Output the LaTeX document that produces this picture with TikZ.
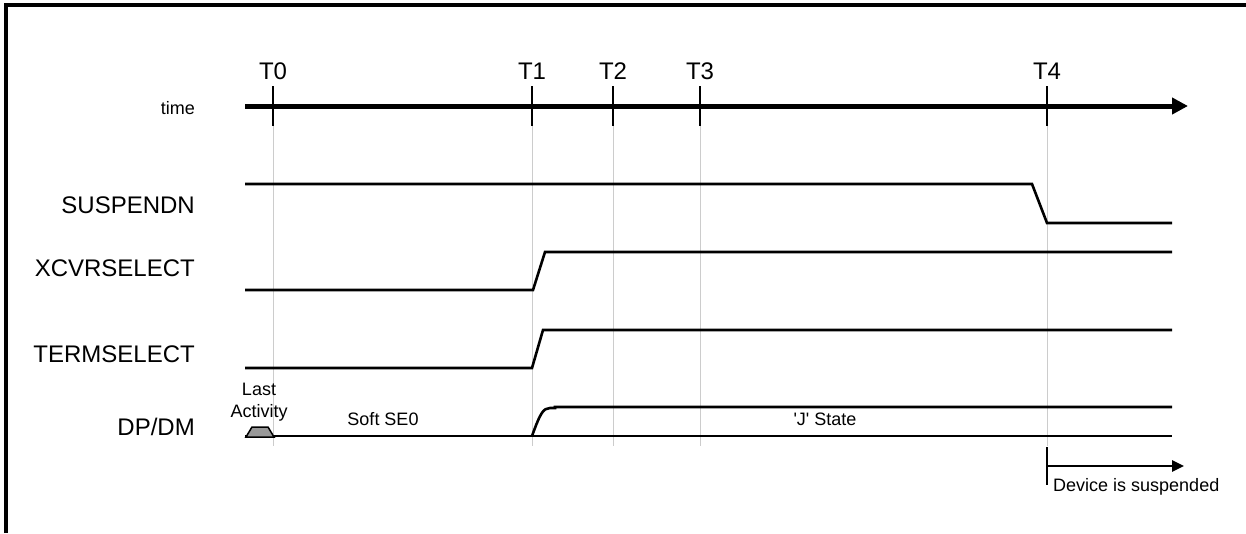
\documentclass[tikz,border=0pt]{standalone}
\usepackage{fontspec}
\setmainfont{Liberation Sans}
\usetikzlibrary{arrows.meta, positioning}

\begin{document}
\begin{tikzpicture}[x=1pt,y=-1pt,
	sig/.style={line width=2.6pt},
	gridline/.style={gray!40, line width=1pt},
	tickline/.style={line width=2pt},
	big/.style={font=\fontsize{24}{28}\selectfont, inner sep=0pt},
	small/.style={font=\fontsize{18}{22}\selectfont, inner sep=0pt}]
		\useasboundingbox (0,0) rectangle (1246,533);
		\draw[line width=4pt] (6,533) -- (6,5) -- (1246,5);
		
		% time axis with ticks
		\coordinate (ax0) at (245,106);
		\coordinate (ax1) at (1188,106);
		\draw[line width=5pt, -{Triangle[length=16pt,width=16pt]}] (ax0) -- (ax1);
		\foreach \n/\x in {0/273,1/532,2/613,3/700,4/1047}{
			\draw[gridline] (\x,126) -- (\x,446);
			\draw[tickline] (\x,86) -- (\x,126);
			\node[big, anchor=base] (t\n) at (\x,79) {T\n};
		}
		
		% signal names
		\node[small, anchor=base east] (time) at (195,114) {time};
		\node[big, anchor=base east] (susp) at (195,213) {SUSPENDN};
		\node[big, anchor=base east] (xcvr) at (195,276) {XCVRSELECT};
		\node[big, anchor=base east] (term) at (195,362) {TERMSELECT};
		\node[big, anchor=base east] (dpdm) at (195,435) {DP/DM};
		
		% waveforms
		\draw[sig] (245,184) -- (1032,184) -- (1047,223) -- (1172,223);
		\draw[sig] (245,290) -- (533,290) -- (545,252) -- (1172,252);
		\draw[sig] (245,368) -- (532,368) -- (543,330) -- (1172,330);
		\draw[sig] (245,436) -- (1172,436);
		\draw[sig] (532,436) .. controls (540,414) and (543,408) .. (550,408) -- (555,408) -- (555,407) -- (1172,407);
		\filldraw[fill=gray!80, line width=1.5pt] (246,437) -- (252,427) -- (268,427) -- (274,437) -- cycle;
		
		\node[small, align=center, anchor=south] (act) at (259,421) {Last\\Activity};
		\node[small, anchor=base] (se0) at (383,425) {Soft SE0};
		\node[small, anchor=base] (jst) at (825,425) {\textquotesingle J\textquotesingle{} State};
		
		% suspended
		\coordinate (sus0) at (1047,466);
		\coordinate (sus1) at (1184,466);
		\draw[tickline] (1047,447) -- (1047,485);
		\draw[line width=2.5pt, -{Triangle[length=12pt,width=11pt]}] (sus0) -- (sus1);
		\node[small, anchor=base west] (susp txt) at (1053,491) {Device is suspended};
	\end{tikzpicture}
\end{document}
